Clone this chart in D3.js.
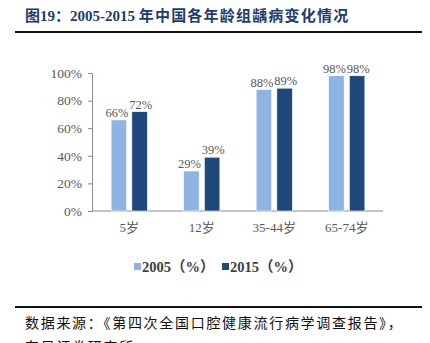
<!DOCTYPE html>
<html>
<head>
<meta charset="utf-8">
<script src="https://cdn.jsdelivr.net/npm/d3@7"></script>
<style>
  html, body { margin: 0; padding: 0; background: #fff; }
  svg { display: block; }
</style>
</head>
<body>
<svg id="chart" width="430" height="343"></svg>
<script>
// Age groups and caries prevalence (share of people affected)
const categories = ["5岁", "12岁", "35-44岁", "65-74岁"];
const series = ["2005（%）", "2015（%）"];
const values2005 = [0.66, 0.29, 0.88, 0.98];
const values2015 = [0.72, 0.39, 0.89, 0.98];
const yTicks = [0, 0.2, 0.4, 0.6, 0.8, 1.0];
const colors = ["#8EB4E3", "#1F497D"];

const svg = d3.select("#chart");
const serif = "'Liberation Serif', 'Times New Roman', 'Noto Sans CJK SC', serif";
const cjk = "'Noto Sans CJK SC', sans-serif";

// Title and rule
const title = svg.append("text")
  .attr("x", 25).attr("y", 21)
  .attr("font-family", "'Liberation Serif', 'Noto Sans CJK SC', serif")
  .attr("font-weight", "bold")
  .attr("font-size", 15)
  .attr("fill", "#1F3B6E");
title.append("tspan").text("图19：2005-2015 ");
title.append("tspan").attr("letter-spacing", 1.2).text("年中国各年龄组龋病变化情况");
svg.append("line")
  .attr("x1", 15).attr("x2", 422).attr("y1", 32).attr("y2", 32)
  .attr("stroke", "#111").attr("stroke-width", 2);

// Scales
const x0 = d3.scaleBand().domain(categories).range([93, 383]).paddingInner(0.5).paddingOuter(0.25);
const x1 = d3.scaleBand().domain(series).range([0, x0.bandwidth()]).paddingInner(0.25);
const y = d3.scaleLinear().domain([0, 1]).range([211, 73]);

// Y axis
const yAxis = svg.append("g")
  .attr("transform", "translate(92,0)")
  .call(d3.axisLeft(y).tickValues(yTicks).tickFormat(d3.format(".0%")).tickSize(4).tickPadding(6));
yAxis.select(".domain").attr("stroke", "#8c8c8c");
yAxis.selectAll(".tick line").attr("stroke", "#8c8c8c");
yAxis.selectAll("text")
  .attr("font-family", serif).attr("font-size", 13.5).attr("fill", "#595959");

// X axis (baseline + category labels)
const xAxis = svg.append("g")
  .attr("transform", "translate(0,211)")
  .call(d3.axisBottom(x0).tickSize(0).tickPadding(12));
xAxis.select(".domain").attr("stroke", "#8c8c8c").attr("d", "M92,0H383");
xAxis.selectAll("text")
  .attr("font-family", serif).attr("font-size", 13).attr("fill", "#595959");

// Bars
const rows = categories.map((c, i) => ({ cat: c, vals: [values2005[i], values2015[i]] }));
const groups = svg.append("g").selectAll("g").data(rows).join("g")
  .attr("transform", d => `translate(${x0(d.cat)},0)`);

groups.selectAll("rect")
  .data(d => d.vals.map((v, j) => ({ key: series[j], v, j })))
  .join("rect")
  .attr("x", d => x1(d.key))
  .attr("y", d => y(d.v))
  .attr("width", x1.bandwidth())
  .attr("height", d => y(0) - y(d.v))
  .attr("fill", d => colors[d.j])
  .attr("stroke", "#fff").attr("stroke-width", 0.6);

groups.selectAll("text.val")
  .data(d => d.vals.map((v, j) => ({ key: series[j], v, j })))
  .join("text")
  .attr("class", "val")
  .attr("x", d => x1(d.key) + x1.bandwidth() / 2 + (d.j === 0 ? -2 : 1))
  .attr("y", d => y(d.v) - 3)
  .attr("text-anchor", "middle")
  .attr("font-family", serif).attr("font-size", 12.5).attr("fill", "#595959")
  .text(d => Math.round(d.v * 100) + "%");

// Legend
const legend = svg.append("g");
const legX = [134, 222];
series.forEach((s, i) => {
  legend.append("rect")
    .attr("x", legX[i]).attr("y", 263).attr("width", 7).attr("height", 7)
    .attr("fill", colors[i]);
  legend.append("text")
    .attr("x", legX[i] + 8).attr("y", 272)
    .attr("font-family", serif).attr("font-weight", "bold")
    .attr("font-size", 14.5).attr("fill", "#404040")
    .text(s);
});

// Source footer
svg.append("line")
  .attr("x1", 15).attr("x2", 422).attr("y1", 307).attr("y2", 307)
  .attr("stroke", "#111").attr("stroke-width", 2);
svg.append("text")
  .attr("x", 25).attr("y", 328)
  .attr("font-family", cjk).attr("font-size", 14).attr("letter-spacing", 1.7)
  .attr("fill", "#111")
  .text("数据来源：《第四次全国口腔健康流行病学调查报告》，");
svg.append("text")
  .attr("x", 25).attr("y", 352)
  .attr("font-family", cjk).attr("font-size", 14).attr("letter-spacing", 1.7)
  .attr("fill", "#111")
  .text("东吴证券研究所");
</script>
</body>
</html>
